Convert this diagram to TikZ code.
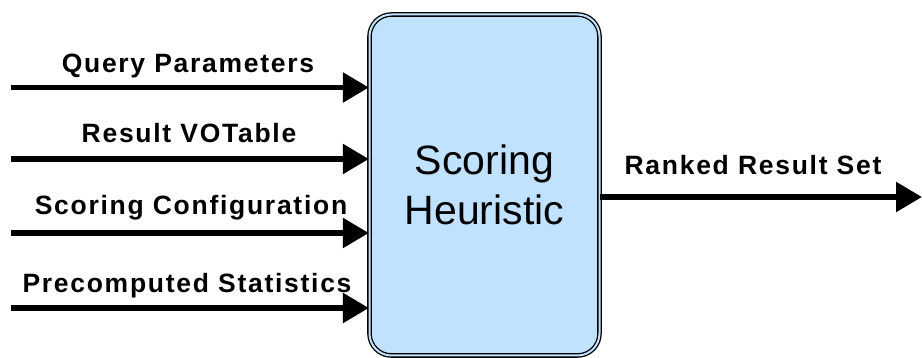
\documentclass[tikz,border=0pt]{standalone}
\usepackage{fontspec}
\setmainfont{Liberation Sans}
\newfontfamily\lblfont{Liberation Sans}[LetterSpace=6.5]
\usetikzlibrary{arrows.meta}
\definecolor{boxfill}{RGB}{192,226,255}
\tikzset{
  flow/.style={line width=5.5pt, -{Triangle[length=26pt,width=29pt]}},
  lbl/.style={anchor=base, inner sep=0pt, font=\lblfont\bfseries\fontsize{26.5}{30}\selectfont},
  procbox/.style={draw=black, line width=1.3pt, double=boxfill, double distance=2pt,
    fill=boxfill, rounded corners=22pt, minimum width=230pt, minimum height=341pt,
    inner sep=0pt, align=center, font=\fontsize{41}{50}\selectfont}
}
\begin{document}
\begin{tikzpicture}[x=1pt,y=-1pt]
\useasboundingbox (0,0) rectangle (922,358);
\node[procbox] (box) at (484.5,185) {Scoring\\[0pt]Heuristic};
\coordinate (in1) at (11,87.5);
\coordinate (in2) at (11,159);
\coordinate (in3) at (11,233);
\coordinate (in4) at (11,308);
\coordinate (out) at (922,197);
\draw[flow] (in1) -- (in1 -| box.west);
\draw[flow] (in2) -- (in2 -| box.west);
\draw[flow] (in3) -- (in3 -| box.west);
\draw[flow] (in4) -- (in4 -| box.west);
\draw[flow] (out -| box.east) -- (out);
\node[lbl] (l1) at (188,73) {Query Parameters};
\node[lbl] (l2) at (189,143) {Result VOTable};
\node[lbl] (l3) at (191,215) {Scoring Configuration};
\node[lbl] (l4) at (187,293) {Precomputed Statistics};
\node[lbl] (l5) at (753,175) {Ranked Result Set};
\end{tikzpicture}
\end{document}
